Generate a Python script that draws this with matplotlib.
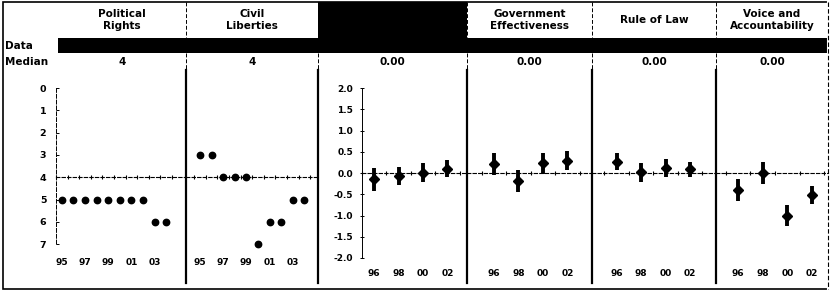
import matplotlib
matplotlib.use("Agg")
import matplotlib.pyplot as plt
from matplotlib.patches import Rectangle

plt.rcParams['font.family'] = ['DejaVu Sans']
plt.rcParams['font.weight'] = 'bold'

W, H = 830, 292

# Datos
titulos = ["Political\nRights", "Civil\nLiberties", "", "Government\nEffectiveness",
           "Rule of Law", "Voice and\nAccountability"]
medianas = ["4", "4", "0.00", "0.00", "0.00", "0.00"]

anios_fh = [1995, 1996, 1997, 1998, 1999, 2000, 2001, 2002, 2003, 2004]
political_rights = [5, 5, 5, 5, 5, 5, 5, 5, 6, 6]
civil_liberties = [3, 3, 4, 4, 4, 7, 6, 6, 5, 5]
fh_ticks = [1995, 1997, 1999, 2001, 2003]
fh_etiquetas = ["95", "97", "99", "01", "03"]
fh_mediana = 4

anios_wgi = [1996, 1998, 2000, 2002]
wgi_etiquetas = ["96", "98", "00", "02"]
panel3 = [-0.15, -0.06, 0.01, 0.10]
panel3_err = [0.26, 0.21, 0.22, 0.20]
gov_eff = [0.21, -0.19, 0.23, 0.29]
gov_eff_err = [0.26, 0.26, 0.24, 0.22]
rule_law = [0.27, 0.02, 0.12, 0.09]
rule_law_err = [0.20, 0.22, 0.21, 0.18]
voice = [-0.40, 0.01, -1.00, -0.52]
voice_err = [0.25, 0.26, 0.25, 0.21]
wgi_mediana = 0.0

# Layout en pixeles
bordes_col = [58, 186, 318, 467, 592, 716, 828]
y_top, y_hdr, y_data, y_med, y_plot_bot, y_bot = 2, 38, 53, 70, 283, 289


def rect(l, t, r, b):
    return [l / W, 1 - b / H, (r - l) / W, (b - t) / H]


fig = plt.figure(figsize=(W / 100, H / 100), dpi=100)

# Fondo: tabla
bg = fig.add_axes([0, 0, 1, 1])
bg.set_xlim(0, W)
bg.set_ylim(H, 0)
bg.axis("off")

bg.add_patch(Rectangle((3, y_top), 825, y_bot - y_top, fill=False, lw=1.2, ec="black"))
bg.add_patch(Rectangle((bordes_col[0], y_hdr), bordes_col[-1] - bordes_col[0], y_data - y_hdr,
                       color="black", lw=0))
bg.add_patch(Rectangle((bordes_col[2], y_top), bordes_col[3] - bordes_col[2], y_hdr - y_top,
                       color="black", lw=0))
bg.plot([828, 828], [y_top, y_bot], color="white", lw=1.5)
bg.plot([828, 828], [y_top, y_bot], color="black", lw=0.8, ls=(0, (4, 2)))

for i in range(1, 6):
    x = bordes_col[i]
    if i != 2:
        bg.plot([x, x], [y_top, y_hdr], color="black", lw=0.7, ls=(0, (4, 2)))
    bg.plot([x, x], [y_data, y_med], color="black", lw=0.7, ls=(0, (4, 2)))
    bg.plot([x, x], [y_med, y_plot_bot], color="black", lw=1.6)

for i in range(6):
    cx = (bordes_col[i] + bordes_col[i + 1]) / 2
    if titulos[i]:
        bg.text(cx, 20, titulos[i], ha="center", va="center", fontsize=7.5,
                fontweight="bold", linespacing=1.25)
    bg.text(cx, 62, medianas[i], ha="center", va="center", fontsize=7.5, fontweight="bold")

bg.text(5, 46, "Data", ha="left", va="center", fontsize=7.5, fontweight="bold")
bg.text(5, 62, "Median", ha="left", va="center", fontsize=7.5, fontweight="bold")


def panel_fh(caja, xlim, valores, con_eje):
    ax = fig.add_axes(rect(*caja))
    ax.patch.set_alpha(0)
    ax.plot(anios_fh, valores, "o", color="black", ms=4.6, zorder=3)
    ax.set_xlim(*xlim)
    ax.set_ylim(8.74, -0.81)
    for s in ["top", "right"]:
        ax.spines[s].set_visible(False)
    ax.spines["bottom"].set_position(("data", fh_mediana))
    ax.spines["bottom"].set_linestyle((0, (3, 2)))
    ax.spines["bottom"].set_linewidth(0.8)
    ax.set_xticks([a - 0.5 for a in anios_fh] + [anios_fh[-1] + 0.5])
    ax.set_xticklabels([])
    ax.tick_params(axis="x", direction="inout", length=3, width=0.8)
    if con_eje:
        ax.spines["left"].set_bounds(0, 7)
        ax.spines["left"].set_linestyle((0, (4, 2)))
        ax.spines["left"].set_linewidth(0.7)
        ax.set_yticks(range(0, 8))
        ax.tick_params(axis="y", direction="in", length=2, width=0.7, pad=7, labelsize=6.8)
    else:
        ax.spines["left"].set_visible(False)
        ax.set_yticks([])
    for t, lab in zip(fh_ticks, fh_etiquetas):
        ax.text(t, 7.8, lab, ha="center", va="center", fontsize=6.5, fontweight="bold")
    return ax


def panel_wgi(caja, xlim, valores, errores, con_eje):
    ax = fig.add_axes(rect(*caja))
    ax.patch.set_alpha(0)
    ax.errorbar(anios_wgi, valores, yerr=errores, fmt="D", color="black", ms=5.5,
                elinewidth=2.8, capsize=0, zorder=3)
    ax.set_xlim(*xlim)
    ax.set_ylim(-2.59, 2.43)
    for s in ["top", "right"]:
        ax.spines[s].set_visible(False)
    ax.spines["bottom"].set_position(("data", wgi_mediana))
    ax.spines["bottom"].set_linestyle((0, (3, 2)))
    ax.spines["bottom"].set_linewidth(0.8)
    ax.set_xticks([a - 1 for a in anios_wgi] + [anios_wgi[-1] + 1])
    ax.set_xticklabels([])
    ax.tick_params(axis="x", direction="inout", length=3, width=0.8)
    if con_eje:
        ax.spines["left"].set_bounds(-2, 2)
        ax.spines["left"].set_linewidth(0.7)
        ax.set_yticks([-2, -1.5, -1, -0.5, 0, 0.5, 1, 1.5, 2])
        ax.set_yticklabels(["-2.0", "-1.5", "-1.0", "-0.5", "0.0", "0.5", "1.0", "1.5", "2.0"])
        ax.tick_params(axis="y", direction="inout", length=3, width=0.7, pad=5, labelsize=6.5)
    else:
        ax.spines["left"].set_visible(False)
        ax.set_yticks([])
    for t, lab in zip(anios_wgi, wgi_etiquetas):
        ax.text(t, -2.36, lab, ha="center", va="center", fontsize=6.5, fontweight="bold")
    return ax


panel_fh((56, y_med, 186, y_plot_bot), (1994.52, 2005.7), political_rights, True)
panel_fh((186, y_med, 316, y_plot_bot), (1993.8, 2005.0), civil_liberties, False)

panel_wgi((362, y_med, 467, y_plot_bot), (1995.1, 2003.6), panel3, panel3_err, True)
panel_wgi((467, y_med, 592, y_plot_bot), (1993.8, 2004.0), gov_eff, gov_eff_err, False)
panel_wgi((592, y_med, 716, y_plot_bot), (1994.0, 2004.1), rule_law, rule_law_err, False)
panel_wgi((716, y_med, 828, y_plot_bot), (1994.2, 2003.3), voice, voice_err, False)

fig.savefig("out.png", dpi=100)
